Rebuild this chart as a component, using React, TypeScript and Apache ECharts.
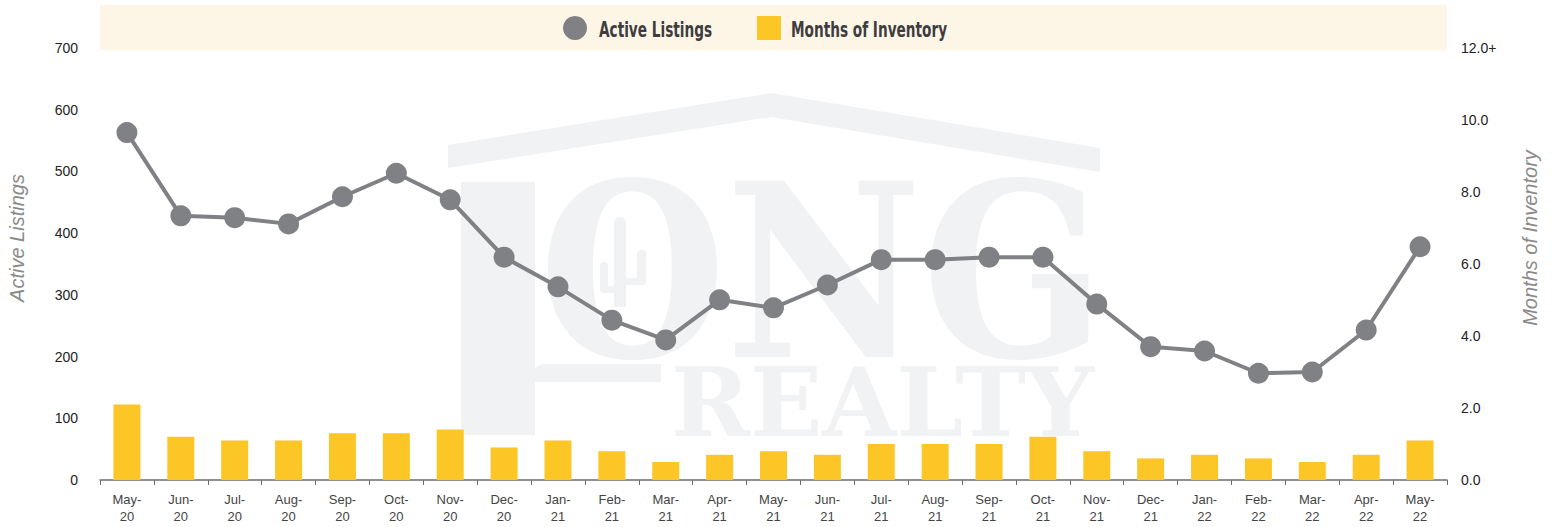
import React, { useEffect, useRef } from "react";
import * as echarts from "echarts";

const months = [
  "May-20", "Jun-20", "Jul-20", "Aug-20", "Sep-20", "Oct-20", "Nov-20", "Dec-20",
  "Jan-21", "Feb-21", "Mar-21", "Apr-21", "May-21", "Jun-21", "Jul-21", "Aug-21",
  "Sep-21", "Oct-21", "Nov-21", "Dec-21", "Jan-22", "Feb-22", "Mar-22", "Apr-22", "May-22",
];
const activeListings = [
  563, 428, 425, 415, 459, 497, 454, 361, 313, 259, 227, 292, 279, 316, 357, 357,
  361, 361, 285, 216, 209, 173, 175, 243, 378,
];
const monthsOfInventory = [
  2.1, 1.2, 1.1, 1.1, 1.3, 1.3, 1.4, 0.9, 1.1, 0.8, 0.5, 0.7, 0.8, 0.7, 1.0, 1.0,
  1.0, 1.2, 0.8, 0.6, 0.7, 0.6, 0.5, 0.7, 1.1,
];
const seriesNames = ["Active Listings", "Months of Inventory"];

const WM = "#f1f2f3";
const GRAY = "#808184";
const GOLD = "#fdc627";

export default function App() {
  const ref = useRef<HTMLDivElement>(null);
  useEffect(() => {
    if (!ref.current) return;
    const chart = echarts.init(ref.current, null, { renderer: "svg" });
    const legendFont = "'Liberation Sans Narrow', 'DejaVu Sans Condensed', 'Liberation Sans', sans-serif";
    const sans = "'Liberation Sans', Arial, sans-serif";
    chart.setOption({
      animation: false,
      grid: { left: 100, right: 106, top: 48, bottom: 47, containLabel: false },
      graphic: [
        { type: "rect", z: 0, shape: { x: 100, y: 5, width: 1347, height: 45 }, style: { fill: "#fdf6e7" } },
        { type: "circle", z: 1, shape: { cx: 575, cy: 28, r: 12 }, style: { fill: GRAY } },
        { type: "text", z: 1, x: 599, y: 29, scaleX: 0.69, style: { text: seriesNames[0], fill: "#3d3d3f", font: `bold 22px ${legendFont}`, verticalAlign: "middle" } },
        { type: "rect", z: 1, shape: { x: 757, y: 16, width: 24, height: 24 }, style: { fill: GOLD } },
        { type: "text", z: 1, x: 791, y: 29, scaleX: 0.69, style: { text: seriesNames[1], fill: "#3d3d3f", font: `bold 22px ${legendFont}`, verticalAlign: "middle" } },
        // axis titles
        { type: "text", z: 1, x: 17, y: 238, rotation: Math.PI / 2, style: { text: seriesNames[0], fill: "#8a8a8a", font: `italic 20px ${sans}`, align: "center", verticalAlign: "middle" } },
        { type: "text", z: 1, x: 1530, y: 238, rotation: Math.PI / 2, style: { text: seriesNames[1], fill: "#8a8a8a", font: `italic 20px ${sans}`, align: "center", verticalAlign: "middle" } },
        // watermark (logo)
        { type: "polygon", z: 0, shape: { points: [[448, 145], [771, 93], [1100, 148], [1100, 172], [771, 117], [448, 168]] }, style: { fill: WM } },
        { type: "rect", z: 0, shape: { x: 461, y: 182, width: 74, height: 253 }, style: { fill: WM } },
        { type: "rect", z: 0, shape: { x: 533, y: 364, width: 128, height: 18, r: [12, 0, 0, 0] }, style: { fill: WM } },
        { type: "text", z: 0, x: 539, y: 272, scaleX: 0.89, style: { text: "ONG", fill: WM, font: "bold 241px 'DejaVu Serif', serif", verticalAlign: "middle" } },
        { type: "rect", z: 0, shape: { x: 614, y: 217, width: 12, height: 90, r: [6, 6, 0, 0] }, style: { fill: WM } },
        { type: "rect", z: 0, shape: { x: 600, y: 262, width: 8, height: 30, r: [4, 4, 4, 4] }, style: { fill: WM } },
        { type: "rect", z: 0, shape: { x: 600, y: 286, width: 20, height: 7, r: [0, 0, 4, 4] }, style: { fill: WM } },
        { type: "rect", z: 0, shape: { x: 637, y: 250, width: 9, height: 35, r: [4, 4, 4, 4] }, style: { fill: WM } },
        { type: "rect", z: 0, shape: { x: 622, y: 278, width: 24, height: 7, r: [0, 0, 4, 4] }, style: { fill: WM } },
        { type: "text", z: 0, x: 671, y: 402, scaleX: 0.99, style: { text: "REALTY", fill: WM, font: "bold 96px 'DejaVu Serif', serif", verticalAlign: "middle" } },
      ],
      xAxis: {
        type: "category",
        data: months,
        axisLine: { lineStyle: { color: "#6d6d6d", width: 1.5 } },
        axisTick: { show: true, length: 5, lineStyle: { color: "#6d6d6d" } },
        axisLabel: {
          formatter: (v: string) => v.replace("-", "-\n"),
          color: "#444",
          fontSize: 13,
          lineHeight: 17,
          margin: 11,
          fontFamily: sans,
          interval: 0,
        },
      },
      yAxis: [
        {
          type: "value",
          min: 0,
          max: 700,
          interval: 100,
          axisLine: { show: false },
          axisTick: { show: false },
          splitLine: { show: false },
          axisLabel: { color: "#222", fontSize: 14, margin: 22, fontFamily: sans },
        },
        {
          type: "value",
          min: 0,
          max: 12,
          interval: 2,
          position: "right",
          axisLine: { show: false },
          axisTick: { show: false },
          splitLine: { show: false },
          axisLabel: {
            color: "#222",
            fontSize: 14,
            margin: 14,
            fontFamily: sans,
            formatter: (v: number) => (v >= 12 ? "12.0+" : v.toFixed(1)),
          },
        },
      ],
      series: [
        {
          name: seriesNames[1],
          type: "bar",
          yAxisIndex: 1,
          data: monthsOfInventory,
          barWidth: 27,
          itemStyle: { color: GOLD },
          z: 2,
        },
        {
          name: seriesNames[0],
          type: "line",
          yAxisIndex: 0,
          data: activeListings,
          symbol: "circle",
          symbolSize: 21,
          lineStyle: { color: GRAY, width: 4 },
          itemStyle: { color: GRAY },
          z: 3,
        },
      ],
    });
    return () => chart.dispose();
  }, []);
  return <div ref={ref} style={{ width: 1553, height: 527, position: "absolute", left: 0, top: 0 }} />;
}
